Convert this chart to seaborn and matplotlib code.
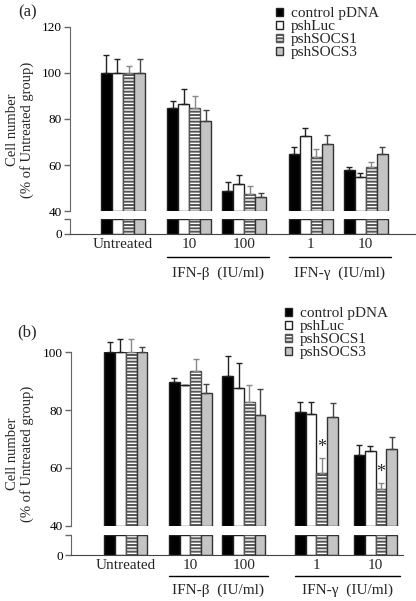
import numpy as np
import pandas as pd
import matplotlib.pyplot as plt
import seaborn as sns
from matplotlib.transforms import blended_transform_factory

sns.set_style("ticks")
plt.rcParams["font.family"] = ["Liberation Serif", "DejaVu Serif"]
plt.rcParams["hatch.linewidth"] = 1.4

# ---- data ----
series = ["control pDNA", "pshLuc", "pshSOCS1", "pshSOCS3"]
conditions = ["Untreated", "IFN-β 10", "IFN-β 100", "IFN-γ 1", "IFN-γ 10"]
tick_labels = ["Untreated", "10", "100", "1", "10"]

# panel (a)
a_control = [100, 84.7, 48.8, 65.0, 58.0]
a_luc = [100, 86.7, 51.7, 72.5, 54.7]
a_socs1 = [100, 84.6, 47.4, 63.7, 59.3]
a_socs3 = [100, 79.0, 46.3, 69.0, 64.8]
a_control_sd = [7.7, 3.3, 3.7, 2.7, 1.3]
a_luc_sd = [5.8, 6.1, 3.9, 3.4, 2.0]
a_socs1_sd = [3.0, 5.2, 3.6, 3.3, 2.0]
a_socs3_sd = [5.8, 4.7, 1.7, 3.9, 3.2]

# panel (b)
b_control = [100, 89.8, 91.7, 79.4, 64.5]
b_luc = [100, 88.5, 87.6, 78.5, 65.8]
b_socs1 = [100, 93.4, 82.8, 58.2, 52.7]
b_socs3 = [100, 85.8, 78.2, 77.5, 66.6]
b_control_sd = [3.4, 1.4, 7.0, 3.2, 3.4]
b_luc_sd = [4.4, 0.1, 8.5, 4.1, 1.7]
b_socs1_sd = [4.4, 4.3, 5.7, 5.2, 2.2]
b_socs3_sd = [1.6, 3.1, 8.9, 4.8, 4.0]
b_stars = [("pshSOCS1", "IFN-γ 1"), ("pshSOCS1", "IFN-γ 10")]

# ---- layout / style ----
pos_a = [0, 1.2, 2.2, 3.4, 4.4]
pos_b = [0, 1.2, 2.2, 3.55, 4.65]
face = {"control pDNA": "black", "pshLuc": "white", "pshSOCS1": "white", "pshSOCS3": "#c4c4c4"}
hatch = {"control pDNA": "", "pshLuc": "", "pshSOCS1": "-----", "pshSOCS3": ""}
edge = {"control pDNA": "#222222", "pshLuc": "#222222", "pshSOCS1": "#555555", "pshSOCS3": "#333333"}
ecol = {"control pDNA": "#222222", "pshLuc": "#222222", "pshSOCS1": "#888888", "pshSOCS3": "#444444"}
axis_col = "#666666"


def make_df(pos, means, sds):
    rows = []
    for s, m, e in zip(series, means, sds):
        for p, c, v, d in zip(pos, conditions, m, e):
            rows.append({"pos": p, "condition": c, "series": s, "value": v, "sd": d})
    return pd.DataFrame(rows)


def style_bars(ax):
    for s, cont in zip(series, ax.containers):
        for patch in cont:
            patch.set_facecolor(face[s])
            patch.set_edgecolor(edge[s])
            patch.set_hatch(hatch[s])
            patch.set_linewidth(1)


def draw_panel(fig, df, pos, rect_top, rect_bot, xlim, ytop, yticks, stars,
               line_y, text_y, lab, lab_xy, leg_xy, ylab_y):
    ax = fig.add_axes(rect_top)
    axb = fig.add_axes(rect_bot)
    for a in (ax, axb):
        sns.barplot(data=df, x="pos", y="value", hue="series", hue_order=series,
                    native_scale=True, errorbar=None, saturation=1,
                    palette=face, legend=False, ax=a)
        style_bars(a)
        a.set_xlim(*xlim)
        a.set_xlabel("")
        a.set_ylabel("")

    # upper part: bars start at the break (40)
    ax.set_ylim(40, ytop)
    for patch in ax.patches:
        h = patch.get_height()
        patch.set_y(40)
        patch.set_height(h - 40)
    # lower stub part
    axb.set_ylim(0, 10)
    for patch in axb.patches:
        patch.set_height(10)

    # error bars (upper side only)
    for s, cont in zip(series, ax.containers):
        sub = df[df["series"] == s].sort_values("pos")
        xs = [p.get_x() + p.get_width() / 2 for p in cont]
        eb = ax.errorbar(xs, sub["value"], yerr=[np.zeros(len(sub)), sub["sd"]],
                         fmt="none", ecolor=ecol[s], elinewidth=1,
                         capsize=2.5, capthick=1, zorder=3)
        for art in eb.get_children():
            art.set_clip_on(False)

    for s, c in stars:
        row = df[(df["series"] == s) & (df["condition"] == c)].iloc[0]
        cont = ax.containers[series.index(s)]
        p = cont[conditions.index(c)]
        ax.annotate("*", (p.get_x() + p.get_width() / 2, row["value"] + row["sd"]),
                    xytext=(0, 1.5), textcoords="offset points",
                    ha="center", va="bottom", fontsize=13)

    sns.despine(ax=ax, bottom=True)
    ax.set_xticks([])
    ax.spines["left"].set_color(axis_col)
    ax.set_yticks(yticks)
    ax.tick_params(axis="y", colors=axis_col, labelcolor="black", labelsize=9.5,
                   length=4, width=1, pad=2)

    sns.despine(ax=axb)
    axb.spines["left"].set_color(axis_col)
    axb.spines["bottom"].set_color("#444444")
    axb.set_yticks([0, 10], ["0", ""])
    axb.tick_params(axis="y", colors=axis_col, labelcolor="black", labelsize=9.5,
                    length=4, width=1, pad=2)
    axb.set_xticks(pos, tick_labels)
    axb.tick_params(axis="x", length=0, labelsize=11, pad=3)

    # treatment brackets
    tr = blended_transform_factory(axb.transData, fig.transFigure)
    for name, i, j in [("IFN-β  (IU/ml)", 1, 2), ("IFN-γ  (IU/ml)", 3, 4)]:
        x0, x1 = pos[i] - 0.4, pos[j] + 0.45
        axb.plot([x0, x1], [line_y, line_y], color="black", lw=1,
                 transform=tr, clip_on=False)
        axb.text((x0 + x1) / 2, text_y, name, transform=tr, ha="center",
                 va="center", fontsize=11)

    fig.text(lab_xy[0], lab_xy[1], lab, fontsize=12, ha="left", va="center")
    fig.text(0.047, ylab_y, "Cell number\n(% of Untreated group)", rotation=90,
             ha="center", va="center", fontsize=10.5, linespacing=1.1,
             multialignment="center")
    fig.legend(handles=list(ax.containers), labels=series, loc="upper left",
               bbox_to_anchor=leg_xy, frameon=False, fontsize=11,
               handlelength=0.45, handleheight=0.45, handletextpad=0.5,
               labelspacing=0.0, borderpad=0, borderaxespad=0)


fig = plt.figure(figsize=(4.16, 6.01), dpi=100)

df_a = make_df(pos_a, [a_control, a_luc, a_socs1, a_socs3],
               [a_control_sd, a_luc_sd, a_socs1_sd, a_socs3_sd])
df_b = make_df(pos_b, [b_control, b_luc, b_socs1, b_socs3],
               [b_control_sd, b_luc_sd, b_socs1_sd, b_socs3_sd])

draw_panel(fig, df_a, pos_a, [0.1683, 0.6484, 0.829, 0.3072], [0.1683, 0.6111, 0.829, 0.025],
           (-0.96, 5.29), 120, [40, 60, 80, 100, 120], [],
           0.5729, 0.5458, "(a)", (0.043, 0.980), (0.664, 0.988), 0.7837)
draw_panel(fig, df_b, pos_b, [0.1707, 0.1248, 0.798, 0.2895], [0.1707, 0.0760, 0.798, 0.0338],
           (-1.02, 5.16), 100, [40, 60, 80, 100], b_stars,
           0.0416, 0.0183, "(b)", (0.041, 0.4476), (0.686, 0.489), 0.2454)

fig.savefig("out.png", dpi=100)
